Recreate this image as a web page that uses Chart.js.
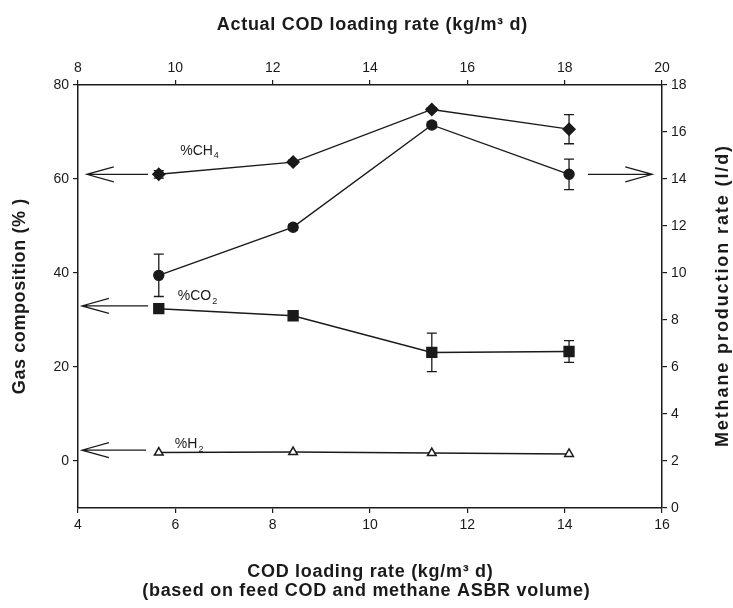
<!DOCTYPE html>
<html>
<head>
<meta charset="utf-8">
<script src="https://cdn.jsdelivr.net/npm/chart.js@4.4.0/dist/chart.umd.min.js"></script>
<style>
  html, body { margin: 0; padding: 0; background: #fff; }
  #wrap { width: 733px; height: 608px; }
</style>
</head>
<body>
<div id="wrap"><canvas id="gasChart" width="733" height="608"></canvas></div>
<script>
// feed-based COD loading rate (bottom axis)
const codLoading = [5.66, 8.42, 11.27, 14.09];

// gas composition (%), left axis
const ch4Percent = [61.0, 63.6, 74.8, 70.6];
const ch4Err = [0.8, 0.4, 0.4, 3.1];
const co2Percent = [32.4, 30.9, 23.1, 23.3];
const co2Err = [0.6, 0.4, 4.1, 2.3];
const h2Percent = [1.8, 1.9, 1.7, 1.5];

// methane production rate (l/d), right axis
const methaneRate = [9.9, 11.95, 16.3, 14.2];
const methaneErr = [0.9, 0.12, 0.12, 0.65];

// arrows pointing to the axis each curve belongs to
const arrows = [
  { axis: "y", y: 61, from: 5.44, to: 4.18 },
  { axis: "y", y: 33, from: 5.44, to: 4.08 },
  { axis: "y", y: 2.3, from: 5.4, to: 4.08 },
  { axis: "y2", y: 14.2, from: 14.48, to: 15.8 },
];

const curveLabels = [
  { main: "%CH", sub: "4", axis: "y", x: 6.1, y: 66 },
  { main: "%CO", sub: "2", axis: "y", x: 6.05, y: 35 },
  { main: "%H", sub: "2", axis: "y", x: 5.99, y: 3.6 },
];

const topTitle = "Actual COD loading rate (kg/m³ d)";
const bottomTitle = ["COD loading rate (kg/m³ d)", "(based on feed COD and methane ASBR volume)"];
const leftTitle = "Gas composition (% )";
const rightTitle = "Methane production rate (l/d)";

const ink = "#1a1a1a";
const fontFamily = "Liberation Sans, Arial, sans-serif";
const tickFont = { family: fontFamily, size: 14 };

function points(values) {
  return codLoading.map((x, i) => ({ x: x, y: values[i] }));
}

const errorSets = [
  { axis: "y", values: ch4Percent, err: ch4Err },
  { axis: "y", values: co2Percent, err: co2Err },
  { axis: "y2", values: methaneRate, err: methaneErr },
];

function drawTitle(ctx, text, x, y, spacing, rotate) {
  ctx.save();
  ctx.translate(x, y);
  if (rotate) ctx.rotate(-Math.PI / 2);
  ctx.font = "bold 18px " + fontFamily;
  if ("letterSpacing" in ctx) ctx.letterSpacing = spacing + "px";
  ctx.textAlign = "center";
  ctx.textBaseline = "middle";
  ctx.fillStyle = ink;
  ctx.fillText(text, spacing / 2, 0);
  ctx.restore();
}

const overlay = {
  id: "overlay",
  beforeDatasetsDraw(chart) {
    const ctx = chart.ctx;
    const xs = chart.scales.x;
    ctx.save();
    ctx.strokeStyle = ink;
    ctx.lineWidth = 1.3;
    errorSets.forEach((set) => {
      const ys = chart.scales[set.axis];
      codLoading.forEach((xv, i) => {
        const e = set.err[i];
        if (!e) return;
        const px = xs.getPixelForValue(xv);
        const top = ys.getPixelForValue(set.values[i] + e);
        const bot = ys.getPixelForValue(set.values[i] - e);
        ctx.beginPath();
        ctx.moveTo(px, top);
        ctx.lineTo(px, bot);
        ctx.moveTo(px - 5, top);
        ctx.lineTo(px + 5, top);
        ctx.moveTo(px - 5, bot);
        ctx.lineTo(px + 5, bot);
        ctx.stroke();
      });
    });
    ctx.restore();
  },
  afterDatasetsDraw(chart) {
    const ctx = chart.ctx;
    const xs = chart.scales.x;
    ctx.save();
    ctx.strokeStyle = ink;
    ctx.lineWidth = 1.2;
    arrows.forEach((a) => {
      const ys = chart.scales[a.axis];
      const py = ys.getPixelForValue(a.y);
      const x1 = xs.getPixelForValue(a.from);
      const x2 = xs.getPixelForValue(a.to);
      const dir = x2 < x1 ? 1 : -1;
      ctx.beginPath();
      ctx.moveTo(x1, py);
      ctx.lineTo(x2, py);
      ctx.moveTo(x2 + dir * 27, py - 7.5);
      ctx.lineTo(x2, py);
      ctx.lineTo(x2 + dir * 27, py + 7.5);
      ctx.stroke();
    });

    ctx.fillStyle = ink;
    ctx.textBaseline = "middle";
    ctx.textAlign = "left";
    curveLabels.forEach((l) => {
      const ys = chart.scales[l.axis];
      const px = xs.getPixelForValue(l.x);
      const py = ys.getPixelForValue(l.y);
      ctx.font = "14px " + fontFamily;
      ctx.fillText(l.main, px, py);
      const w = ctx.measureText(l.main).width;
      ctx.font = "9px " + fontFamily;
      ctx.fillText(l.sub, px + w + 1, py + 5);
    });
    ctx.restore();
  },
  afterDraw(chart) {
    const ctx = chart.ctx;
    const area = chart.chartArea;
    const midX = (area.left + area.right) / 2;
    const midY = (area.top + area.bottom) / 2;
    drawTitle(ctx, topTitle, midX + 2, area.top - 60, 0.7, false);
    drawTitle(ctx, bottomTitle[0], midX, area.bottom + 64, 0.7, false);
    drawTitle(ctx, bottomTitle[1], midX - 4, area.bottom + 83, 0.7, false);
    drawTitle(ctx, leftTitle, 20, midY, 0.6, true);
    drawTitle(ctx, rightTitle, chart.width - 10, midY, 1.9, true);
  },
};

const axisBase = {
  grid: { drawOnChartArea: false, drawTicks: true, tickLength: 5, color: ink, lineWidth: 1.2 },
  border: { display: true, color: ink, width: 1.5 },
};

const ctx = document.getElementById("gasChart").getContext("2d");
const chart = new Chart(ctx, {
  type: "line",
  data: {
    datasets: [
      {
        label: "%CH4",
        data: points(ch4Percent),
        yAxisID: "y",
        borderColor: ink,
        borderWidth: 1.4,
        pointStyle: "rectRot",
        pointRadius: 6,
        pointBackgroundColor: ink,
        pointBorderColor: ink,
      },
      {
        label: "Methane production rate",
        data: points(methaneRate),
        yAxisID: "y2",
        borderColor: ink,
        borderWidth: 1.4,
        pointStyle: "circle",
        pointRadius: 5,
        pointBackgroundColor: ink,
        pointBorderColor: ink,
      },
      {
        label: "%CO2",
        data: points(co2Percent),
        yAxisID: "y",
        borderColor: ink,
        borderWidth: 1.4,
        pointStyle: "rect",
        pointRadius: 7,
        pointBackgroundColor: ink,
        pointBorderColor: ink,
      },
      {
        label: "%H2",
        data: points(h2Percent),
        yAxisID: "y",
        borderColor: ink,
        borderWidth: 1.4,
        pointStyle: "triangle",
        pointRadius: 5,
        pointBorderWidth: 1.5,
        pointBackgroundColor: "#fff",
        pointBorderColor: ink,
      },
    ],
  },
  options: {
    responsive: false,
    animation: false,
    devicePixelRatio: 1,
    layout: { padding: 0 },
    plugins: { legend: { display: false }, tooltip: { enabled: false } },
    scales: {
      x: {
        ...axisBase,
        type: "linear",
        position: "bottom",
        min: 4,
        max: 16,
        ticks: { stepSize: 2, font: tickFont, color: ink, padding: 4 },
        afterFit: (s) => { s.height = 100; },
      },
      x2: {
        ...axisBase,
        type: "linear",
        position: "top",
        min: 8,
        max: 20,
        ticks: { stepSize: 2, font: tickFont, color: ink, padding: 3 },
        afterFit: (s) => { s.height = 85; },
      },
      y: {
        ...axisBase,
        type: "linear",
        position: "left",
        min: -10,
        max: 80,
        ticks: { stepSize: 20, font: tickFont, color: ink, padding: 4 },
        afterBuildTicks: (s) => { s.ticks = s.ticks.filter((t) => t.value >= 0); },
        afterFit: (s) => { s.width = 78; },
      },
      y2: {
        ...axisBase,
        type: "linear",
        position: "right",
        min: 0,
        max: 18,
        ticks: { stepSize: 2, font: tickFont, color: ink, padding: 4 },
        afterFit: (s) => { s.width = 71; },
      },
    },
  },
  plugins: [overlay],
});
</script>
</body>
</html>
